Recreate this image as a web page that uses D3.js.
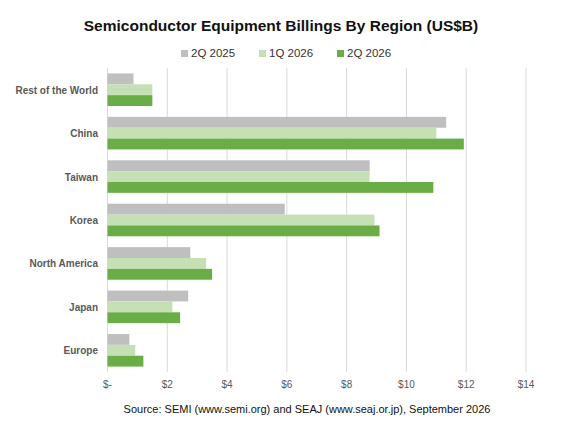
<!DOCTYPE html>
<html><head><meta charset="utf-8">
<script src="https://cdn.jsdelivr.net/npm/d3@7"></script>
<style>body{margin:0;background:#fff}text{font-family:Arial,"Liberation Sans",sans-serif}</style>
</head><body><div id="vis"></div>
<script>
var regions = ["Rest of the World","China","Taiwan","Korea","North America","Japan","Europe"];
var seriesNames = ["2Q 2025","1Q 2026","2Q 2026"];
var colors = ["#bfbfbf","#c5e0b4","#6aad46"];
var q2_2025 = [0.87,11.33,8.77,5.93,2.77,2.70,0.73];
var q1_2026 = [1.50,11.00,8.77,8.93,3.30,2.17,0.93];
var q2_2026 = [1.50,11.92,10.90,9.10,3.50,2.43,1.20];
var ticks = [0,2,4,6,8,10,12,14];

var W = 562, H = 444;
var svg = d3.select("#vis").append("svg").attr("width",W).attr("height",H);

var x = d3.scaleLinear().domain([0,14]).range([107.5,526]);
var y = d3.scaleBand().domain(regions).range([68,372]).paddingInner(0.25).paddingOuter(0.125);
var y2 = d3.scaleBand().domain(seriesNames).range([0,y.bandwidth()]);

svg.append("text").attr("x",281).attr("y",31).attr("text-anchor","middle")
  .attr("font-size",15.5).attr("font-weight","bold").attr("fill","#111")
  .text("Semiconductor Equipment Billings By Region (US$B)");

// gridlines
svg.append("g").selectAll("line").data(ticks).enter().append("line")
  .attr("x1",x).attr("x2",x).attr("y1",68).attr("y2",372)
  .attr("stroke","#d9d9d9").attr("stroke-width",1);

svg.append("g").selectAll("text").data(ticks).enter().append("text")
  .attr("x",x).attr("y",388).attr("text-anchor","middle")
  .attr("font-size",10).attr("fill","#595959")
  .text(function(d){ return d==0 ? "$-" : "$"+d; });

var data = [q2_2025,q1_2026,q2_2026];
data.forEach(function(vals,s){
  svg.append("g").selectAll("rect").data(vals).enter().append("rect")
    .attr("x",x(0))
    .attr("y",function(d,i){ return y(regions[i]) + y2(seriesNames[s]); })
    .attr("width",function(d){ return x(d)-x(0); })
    .attr("height",y2.bandwidth())
    .attr("fill",colors[s]);
});

svg.append("g").selectAll("text").data(regions).enter().append("text")
  .attr("x",98).attr("y",function(d){ return y(d)+y.bandwidth()/2+4; })
  .attr("text-anchor","end").attr("font-size",10).attr("font-weight","bold")
  .attr("fill","#595959").text(function(d){ return d; });

// legend
var lg = svg.append("g").attr("transform","translate(181,57)");
var lx = [0,78,156];
seriesNames.forEach(function(n,i){
  lg.append("rect").attr("x",lx[i]).attr("y",-7).attr("width",7).attr("height",7).attr("fill",colors[i]);
  lg.append("text").attr("x",lx[i]+10).attr("y",0).attr("font-size",11.5).attr("fill","#333").text(n);
});

svg.append("text").attr("x",307).attr("y",413).attr("text-anchor","middle")
  .attr("font-size",11).attr("fill","#111")
  .text("Source: SEMI (www.semi.org) and SEAJ (www.seaj.or.jp), September 2026");
</script></body></html>
